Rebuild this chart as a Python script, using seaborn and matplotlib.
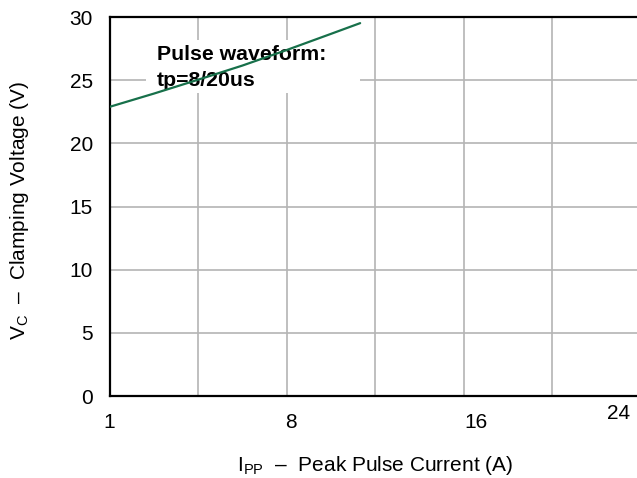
import matplotlib
matplotlib.use("Agg")
import matplotlib.pyplot as plt
import matplotlib.ticker as ticker
from matplotlib.patches import Rectangle
from matplotlib.transforms import ScaledTranslation
import seaborn as sns
import pandas as pd

# Clamping voltage vs peak pulse current
ipp = [1.0, 3.0, 5.0, 7.0, 9.0, 11.0, 12.32]
vc = [22.9, 23.95, 25.05, 26.17, 27.4, 28.68, 29.53]

x_tick_pos = [1.0, 9.19, 17.57, 23.98]
x_tick_labels = ["1", "8", "16", "24"]
x_grid = [5, 9, 13, 17, 21]
y_ticks = [0, 5, 10, 15, 20, 25, 30]

df = pd.DataFrame({"ipp": ipp, "vc": vc})

sns.set_style("white")
plt.rcParams["font.family"] = ["Liberation Sans", "DejaVu Sans"]
plt.rcParams["mathtext.fontset"] = "custom"
plt.rcParams["mathtext.rm"] = "Liberation Sans"
plt.rcParams["text.color"] = "black"
plt.rcParams["axes.labelcolor"] = "black"

fig = plt.figure(figsize=(6.37, 4.78), dpi=100)
ax = fig.add_axes([0.172, 0.1715, 0.834, 0.7925])
ax.set_axisbelow(True)

sns.lineplot(data=df, x="ipp", y="vc", ax=ax, color="#17704a", linewidth=1.6, zorder=4)

ax.set_xlim(1, 25)
ax.set_ylim(0, 30)

ax.set_xticks(x_tick_pos)
ax.set_xticklabels(x_tick_labels)
ax.xaxis.set_minor_locator(ticker.FixedLocator(x_grid))
ax.set_yticks(y_ticks)

ax.grid(False)
ax.grid(which="minor", axis="x", color="#b4b4b4", linewidth=1.2)
ax.grid(which="major", axis="y", color="#b4b4b4", linewidth=1.2)

ax.tick_params(axis="both", which="both", length=0, labelsize=15, pad=12, colors="black")

# the "24" label sits a bit higher in the reference
lbl = ax.get_xticklabels()[-1]
lbl.set_transform(lbl.get_transform() + ScaledTranslation(0, 6 / 72, fig.dpi_scale_trans))

for side in ["left", "bottom", "top"]:
    ax.spines[side].set_color("black")
    ax.spines[side].set_linewidth(1.6)
ax.spines["right"].set_visible(False)

# white box behind the annotation
ax.add_patch(Rectangle((0.069, 0.7995), 0.403, 0.1395, transform=ax.transAxes,
                       facecolor="white", edgecolor="none", zorder=2))
ax.text(0.0895, 0.927, "Pulse waveform:\ntp=8/20us", transform=ax.transAxes,
        fontsize=15.3, fontweight="bold", va="top", ha="left", linespacing=1.45,
        color="black", zorder=3)

ax.set_xlabel(r"I$_{\mathrm{PP}}$  –  Peak Pulse Current (A)", fontsize=15)
ax.set_ylabel(r"V$_{\mathrm{C}}$  –  Clamping Voltage (V)", fontsize=15)
ax.xaxis.set_label_coords(0.5, -0.152)
ax.yaxis.set_label_coords(-0.148, 0.49)

fig.savefig("out.png", dpi=100)
